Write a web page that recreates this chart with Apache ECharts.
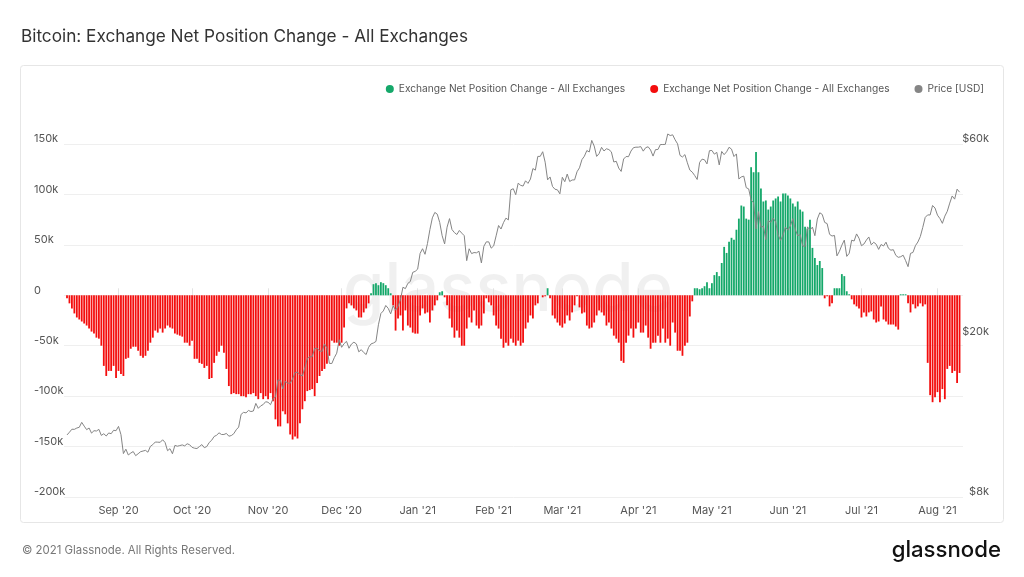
<!DOCTYPE html>
<html><head><meta charset="utf-8">
<script src="https://cdn.jsdelivr.net/npm/echarts@6/dist/echarts.min.js"></script>
<style>html,body{margin:0;padding:0;background:#fff;}#c{width:1024px;height:577px;}</style>
</head><body><div id="c"></div>
<script>
// First day of the daily series (Aug 11, 2020)
const startDay = [2020, 7, 11];

// Exchange net position change, thousands of BTC, one value per day
const netChangeK = [
-3,-8,-13,-18,-22,-24,-26,-28,-30,-33,
-36,-38,-42,-43,-50,-70,-80,-75,-75,-70,
-82,-75,-78,-80,-63,-62,-53,-51,-51,-55,
-60,-62,-60,-55,-47,-42,-35,-37,-33,-37,
-33,-30,-32,-33,-38,-39,-40,-41,-47,-47,
-50,-45,-63,-63,-67,-68,-72,-70,-83,-82,
-67,-60,-56,-50,-57,-73,-90,-98,-97,-98,
-98,-100,-100,-101,-98,-98,-97,-100,-103,-97,
-103,-100,-103,-97,-105,-123,-130,-130,-115,-118,
-127,-138,-143,-140,-142,-127,-113,-105,-95,-94,
-93,-100,-87,-80,-75,-73,-68,-60,-45,-47,
-47,-50,-47,-32,-13,-8,-10,-13,-15,-22,
-22,
-17,-13,-8,2,11,12,10,13,12,10,
7,2,-10,-35,-23,-20,-35,-15,-30,-32,
-37,-38,-38,-20,-13,-18,-17,-27,-15,-10,
-5,3,4,-2,-10,-23,-32,-42,-35,-42,
-50,-50,-33,-22,-27,-15,-30,-33,-30,-18,
-3,-7,-10,-20,-30,-33,-43,-52,-47,-50,
-43,-47,-50,-45,-50,-47,-33,-27,-20,-23,
-10,-8,0,-2,-1,7,-3,-20,-23,-27,
-30,-32,-28,-20,-25,-17,-10,-1,-12,-18,
-17,-30,-33,-32,-27,-20,-15,-17,-20,-30,
-27,-33,-40,-43,-47,-65,-67,-47,-40,-33,
-42,-33,-27,-37,-37,-30,-42,-53,-47,-47,
-40,-47,-33,-47,-43,-50,-27,-37,
-55,
-55,-60,-50,-47,-21,-6,
7,7,6,7,9,13,7,12,20,23,
19,32,48,42,53,57,55,65,76,89,
88,76,75,127,122,142,122,106,93,94,
85,88,94,96,98,93,101,101,99,96,
91,88,93,85,83,68,66,75,47,37,
30,34,27,-3,-1,-11,-8,
7,7,7,21,19,4,1,
-4,-9,-11,-13,-22,-17,-21,-17,-16,-24,
-27,-26,-11,-24,-26,-29,-29,-29,-31,-34,
1,1,1,-8,-17,-9,-13,-11,-8,-11,
-9,-67,-99,-106,-101,-96,-106,-93,-103,-73,
-70,-77,-75,-87,-77
];

// BTC price in USD, one value per day
const priceUSD = [
11400,11580,11780,11770,11860,11910,12250,11990,11750,11860,11520,11680,11660,11770,11370,11480,11330,11530,11480,11710,11680,
11970,11420,10250,10510,10170,10280,10370,10130,10240,10360,10400,10440,10330,10680,10790,10950,10940,10930,11090,10920,10420,10540,10240,10740,10690,10730,10770,10710,10840,10780,
10620,10570,10550,10670,10790,10600,10670,10920,11060,11300,11380,11540,11430,11430,11500,11320,11360,11480,11740,11920,12820,12970,12930,13110,13030,13070,13650,13270,13460,13560,13780,
13740,13550,14020,14150,15590,15580,14830,15480,15330,15300,15700,16280,16320,16070,15960,16720,17650,17800,17820,18680,18700,18420,18360,19160,18720,17150,17140,17720,18180,19630,
18800,19200,19450,18700,19150,19360,19170,18320,18550,18250,18040,18800,19170,19270,19440,21380,22800,23140,23870,23480,22750,23830,23240,23730,24710,26490,26280,27080,27360,28840,29000,
29370,32130,33000,31970,33990,36820,39370,40600,40200,38340,35540,33920,37320,39190,36820,36180,35790,36630,36070,35550,30830,32990,32100,32290,32240,32540,30430,33470,34320,34320,33110,
33540,35520,37680,36930,38300,39300,38900,46200,46480,44920,47970,47400,47190,48630,47920,49130,52150,51680,55890,55920,57410,54090,48900,49710,47080,46340,46190,45140,
49630,48380,50540,48440,48860,48880,51210,52380,54880,55960,57800,57330,61240,59300,55900,56800,58870,57650,58390,58110,57370,54140,54360,52300,51310,55070,55860,55810,57630,58740,58920,
58920,59100,57600,58760,59060,57980,56000,58100,58150,59830,59820,59880,63540,62970,63230,61450,60050,56220,55720,56470,53900,51700,51100,50110,49000,54020,55030,54820,53560,57750,
57830,56630,57210,53240,57500,56460,57390,58890,58280,55860,56700,49150,49720,49940,46760,46430,43540,42910,36960,40780,37280,37540,34770,38710,38400,39300,38440,35700,34620,35680,37330,
36690,37570,39190,36870,35520,35800,33560,33400,37390,36700,37340,35550,39100,40520,40140,38350,38090,35820,35480,35600,31680,32510,33680,34660,31590,32160,34650,34490,35910,35040,
33570,33900,34670,35290,33750,34240,33860,32880,33810,33520,34260,33090,32730,32820,31780,31420,31530,31800,30840,29790,32140,32310,33580,34290,35380,37270,39460,40030,40010,42240,41630,
39970,39200,38150,39750,40870,42820,44600,43800,46370,45590
];

// Axis ticks
const netTicksK = [-200, -150, -100, -50, 0, 50, 100, 150];
const priceTicks = [8000, 20000, 60000];
const monthNames = ['Jan','Feb','Mar','Apr','May','Jun','Jul','Aug','Sep','Oct','Nov','Dec'];

const seriesNames = { inflow: 'Exchange Net Position Change - All Exchanges', outflow: 'Exchange Net Position Change - All Exchanges ', price: 'Price [USD]' };

const days = netChangeK.map((_, i) => new Date(startDay[0], startDay[1], startDay[2] + i).getTime());
const posData = [], negData = [];
netChangeK.forEach((v, i) => { if (v >= 0) posData.push([days[i], v]); else negData.push([days[i], v]); });
const priceData = priceUSD.map((p, i) => [days[i], p]);

const FONT = 'Inter, "Noto Sans", sans-serif';
const chart = echarts.init(document.getElementById('c'), null, { renderer: 'canvas' });
chart.setOption({
  animation: false,
  backgroundColor: '#ffffff',
  textStyle: { fontFamily: FONT },
  graphic: [
    { type: 'rect', shape: { x: 20.5, y: 65.5, width: 983, height: 457, r: 3 }, style: { fill: 'none', stroke: '#e6e6e6', lineWidth: 1 }, z: -10 },
    { type: 'text', left: 21, top: 28, style: { text: 'Bitcoin: Exchange Net Position Change - All Exchanges', font: '17.2px ' + FONT, fill: '#333333' } },
    { type: 'text', x: 508, y: 291, z: 0, style: { text: 'glassnode', font: '500 67px ' + FONT, fill: 'rgba(0,0,0,0.06)', textAlign: 'center', textVerticalAlign: 'middle' } },
    { type: 'text', left: 22, top: 545, style: { text: '\u00a9 2021 Glassnode. All Rights Reserved.', font: '11.4px ' + FONT, fill: '#777777' } },
    { type: 'text', right: 23, top: 539, style: { text: 'glassnode', font: '500 22.2px ' + FONT, fill: '#111111' } }
  ],
  legend: {
    right: 35, top: 79, itemWidth: 8, itemHeight: 8, itemGap: 25, icon: 'circle',
    textStyle: { fontSize: 10.2, color: '#555555', fontFamily: FONT },
    formatter: n => n.trim(),
    data: [seriesNames.inflow, seriesNames.outflow, seriesNames.price]
  },
  grid: { left: 64, right: 61, top: 144, bottom: 80, containLabel: false, outerBoundsMode: 'none' },
  xAxis: {
    type: 'time',
    min: new Date(2020, 7, 10, 3, 20).getTime(),
    max: new Date(2021, 7, 11, 1, 0).getTime(),
    splitNumber: 12,
    minInterval: 28 * 864e5,
    maxInterval: 31 * 864e5,
    axisLine: { show: false },
    axisTick: { show: true, inside: true, length: 7, lineStyle: { color: '#e3e3e3' } },
    splitLine: { show: false },
    axisLabel: {
      margin: 8, color: '#555555', fontSize: 11, fontFamily: FONT, showMinLabel: false, showMaxLabel: false,
      formatter: v => { const d = new Date(v); return monthNames[d.getMonth()] + " '" + String(d.getFullYear()).slice(2); }
    }
  },
  yAxis: [
    {
      type: 'value', min: netTicksK[0], max: netTicksK[netTicksK.length - 1], interval: 50, position: 'left',
      axisLine: { show: false }, axisTick: { show: false },
      splitLine: { lineStyle: { color: '#efefef', width: 1 } },
      axisLabel: { align: 'left', margin: 30, verticalAlign: 'bottom', lineHeight: 10, color: '#555555', fontSize: 11, fontFamily: FONT,
        formatter: v => v === 0 ? '0' : v + 'k' }
    },
    {
      type: 'log', logBase: 10, min: priceTicks[0], max: priceTicks[priceTicks.length - 1], position: 'right',
      axisLine: { show: false }, axisTick: { show: false }, splitLine: { show: false },
      axisLabel: { customValues: priceTicks, align: 'right', margin: 26, verticalAlign: 'bottom', lineHeight: 10, color: '#555555', fontSize: 11, fontFamily: FONT,
        formatter: v => '$' + Math.round(v / 1000) + 'k' }
    }
  ],
  series: [
    { name: seriesNames.inflow, type: 'bar', data: posData, barWidth: 1.8, barGap: '-100%', itemStyle: { color: '#15a86a' }, z: 2 },
    { name: seriesNames.outflow, type: 'bar', data: negData, barWidth: 1.8, barGap: '-100%', itemStyle: { color: '#f30d0d' }, z: 2 },
    { name: seriesNames.price, type: 'line', yAxisIndex: 1, data: priceData, showSymbol: false, symbol: 'none', clip: false,
      lineStyle: { width: 1, color: '#858585' }, itemStyle: { color: '#858585' }, z: 3 }
  ]
});
</script></body></html>
